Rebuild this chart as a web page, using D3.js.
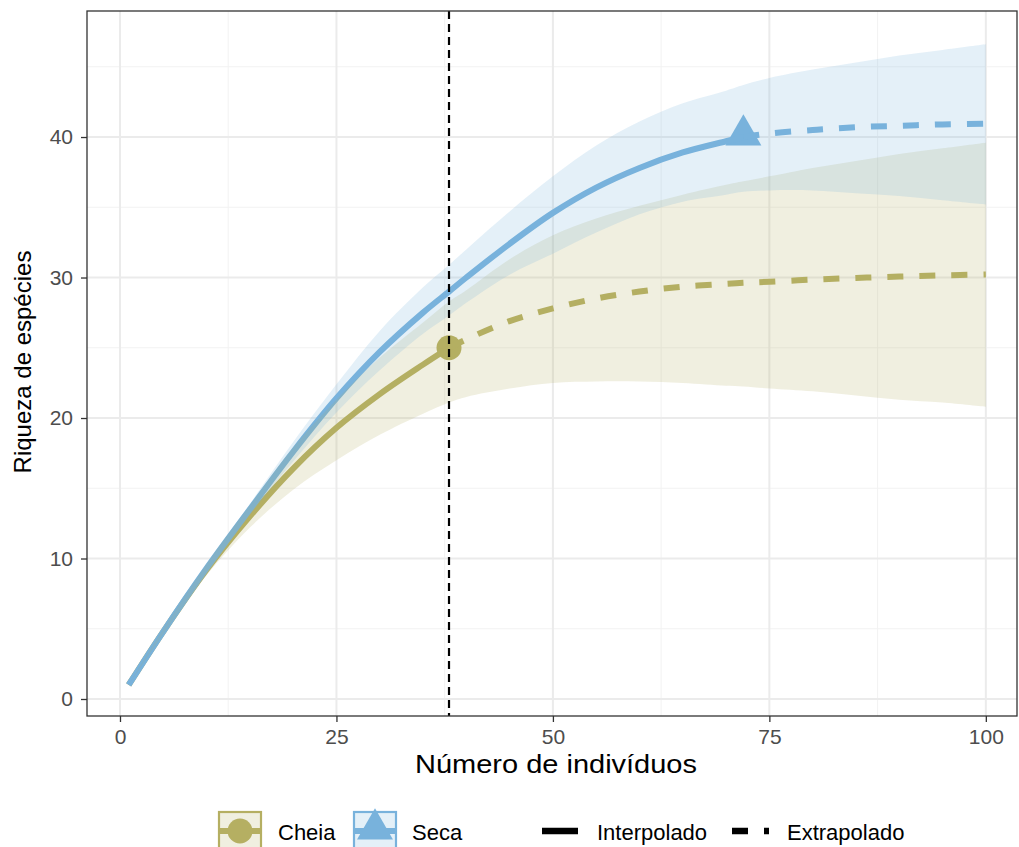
<!DOCTYPE html>
<html>
<head>
<meta charset="utf-8">
<script src="https://cdn.jsdelivr.net/npm/d3@7"></script>
<style>
  body { margin: 0; background: #fff; }
  svg { display: block; font-family: "Liberation Sans", Arial, sans-serif; }
</style>
</head>
<body>
<svg width="1019" height="847"></svg>
<script>
const svg = d3.select('svg')

// amostras (número de indivíduos)
const xs = [1, 5, 10, 15, 20, 25, 30, 35, 38, 40, 45, 50, 55, 60, 65, 70, 72, 75, 80, 85, 90, 95, 100]

// Cheia: observado em 38 indivíduos
const cheiaObs = 38
const cheiaMean = [1, 4.8, 9.2, 13.0, 16.4, 19.3, 21.7, 23.8, 25.0, 25.6, 26.9, 27.8, 28.5, 29.0, 29.35, 29.55, 29.62, 29.7, 29.85, 29.97, 30.07, 30.15, 30.22]
const cheiaLow = [1, 4.6, 8.8, 12.2, 14.9, 17.0, 18.8, 20.3, 21.1, 21.5, 22.1, 22.5, 22.6, 22.6, 22.5, 22.3, 22.25, 22.1, 21.9, 21.6, 21.3, 21.1, 20.8]
const cheiaHigh = [1, 5.0, 9.6, 13.8, 17.9, 21.3, 24.3, 26.8, 28.3, 29.1, 31.3, 33.0, 34.2, 35.1, 35.9, 36.6, 36.85, 37.2, 37.8, 38.3, 38.8, 39.2, 39.6]

// Seca: observado em 72 indivíduos
const secaObs = 72
const secaMean = [1, 4.8, 9.3, 13.5, 17.6, 21.4, 24.7, 27.5, 29.0, 30.0, 32.4, 34.6, 36.4, 37.8, 38.9, 39.7, 40.0, 40.25, 40.5, 40.7, 40.8, 40.9, 40.95]
const secaLow = [1, 4.6, 9.1, 13.1, 16.9, 20.4, 23.4, 26.0, 27.3, 28.2, 30.2, 31.7, 33.2, 34.5, 35.4, 35.9, 36.1, 36.2, 36.2, 36.0, 35.8, 35.5, 35.2]
const secaHigh = [1, 5.0, 9.5, 13.9, 18.3, 22.4, 26.2, 29.3, 30.9, 32.0, 34.7, 37.2, 39.4, 41.1, 42.4, 43.3, 43.7, 44.2, 44.8, 45.3, 45.8, 46.2, 46.6]

const xTicks = [0, 25, 50, 75, 100]
const yTicks = [0, 10, 20, 30, 40]
const xMinor = [12.5, 37.5, 62.5, 87.5]
const yMinor = [5, 15, 25, 35, 45]
const vlineX = 38

const colCheia = '#B5AF62'
const colSeca = '#78B2DC'

const pLeft = 87, pTop = 11, pRight = 1017, pBottom = 716

const x = d3.scaleLinear().domain([-3.81, 103.6]).range([pLeft, pRight])
const y = d3.scaleLinear().domain([-1.21, 48.97]).range([pBottom, pTop])

const series = [
  { name: 'Cheia', obs: cheiaObs, mean: cheiaMean, low: cheiaLow, high: cheiaHigh, color: colCheia, shape: 'circle' },
  { name: 'Seca', obs: secaObs, mean: secaMean, low: secaLow, high: secaHigh, color: colSeca, shape: 'triangle' }
]
series.forEach(s => {
  s.rows = xs.map((v, i) => ({ x: v, m: s.mean[i], lo: s.low[i], hi: s.high[i] }))
  s.inter = s.rows.filter(d => d.x <= s.obs)
  s.extra = s.rows.filter(d => d.x >= s.obs)
  s.point = s.rows.find(d => d.x === s.obs)
})

// grid
const grid = svg.append('g')
grid.selectAll('.ymin').data(yMinor).enter().append('line')
  .attr('x1', pLeft).attr('x2', pRight).attr('y1', d => y(d)).attr('y2', d => y(d))
  .attr('stroke', '#F2F2F2').attr('stroke-width', 1)
grid.selectAll('.xmin').data(xMinor).enter().append('line')
  .attr('y1', pTop).attr('y2', pBottom).attr('x1', d => x(d)).attr('x2', d => x(d))
  .attr('stroke', '#F2F2F2').attr('stroke-width', 1)
grid.selectAll('.ymaj').data(yTicks).enter().append('line')
  .attr('x1', pLeft).attr('x2', pRight).attr('y1', d => y(d)).attr('y2', d => y(d))
  .attr('stroke', '#EBEBEB').attr('stroke-width', 2)
grid.selectAll('.xmaj').data(xTicks).enter().append('line')
  .attr('y1', pTop).attr('y2', pBottom).attr('x1', d => x(d)).attr('x2', d => x(d))
  .attr('stroke', '#EBEBEB').attr('stroke-width', 2)

const curve = d3.curveCatmullRom.alpha(0.5)
const line = d3.line().x(d => x(d.x)).y(d => y(d.m)).curve(curve)
const area = d3.area().x(d => x(d.x)).y0(d => y(d.lo)).y1(d => y(d.hi)).curve(curve)

// points
series.forEach(s => {
  const px = x(s.point.x), py = y(s.point.m)
  if (s.shape === 'circle') {
    svg.append('circle').attr('cx', px).attr('cy', py).attr('r', 12.5).attr('fill', s.color)
  } else {
    svg.append('path').attr('d', d3.symbol(d3.symbolTriangle, 560)())
      .attr('transform', `translate(${px},${py - 2})`).attr('fill', s.color)
  }
})

// lines
series.forEach(s => {
  svg.append('path').datum(s.inter).attr('d', line)
    .attr('fill', 'none').attr('stroke', s.color).attr('stroke-width', 6)
  svg.append('path').datum(s.extra).attr('d', line)
    .attr('fill', 'none').attr('stroke', s.color).attr('stroke-width', 6)
    .attr('stroke-dasharray', '16,16')
})

// ribbons
series.forEach(s => {
  svg.append('path').datum(s.rows).attr('d', area)
    .attr('fill', s.color).attr('fill-opacity', 0.2)
})

// vertical reference line
svg.append('line')
  .attr('x1', x(vlineX)).attr('x2', x(vlineX)).attr('y1', pTop).attr('y2', pBottom)
  .attr('stroke', '#000').attr('stroke-width', 2.2).attr('stroke-dasharray', '8,5')

// panel border
svg.append('rect').attr('x', pLeft).attr('y', pTop).attr('width', pRight - pLeft).attr('height', pBottom - pTop)
  .attr('fill', 'none').attr('stroke', '#333').attr('stroke-width', 1.3)

// axes
const yAxis = svg.append('g').attr('transform', `translate(${pLeft},0)`)
  .call(d3.axisLeft(y).tickValues(yTicks).tickSize(6).tickPadding(8))
const xAxis = svg.append('g').attr('transform', `translate(0,${pBottom})`)
  .call(d3.axisBottom(x).tickValues(xTicks).tickSize(6).tickPadding(7))
;[xAxis, yAxis].forEach(a => {
  a.select('.domain').remove()
  a.selectAll('.tick line').attr('stroke', '#333').attr('stroke-width', 1.3)
  a.selectAll('.tick text').attr('fill', '#4D4D4D').style('font-size', '21px')
    .style('font-family', '"Liberation Sans", Arial, sans-serif')
})

svg.append('text').attr('x', 556).attr('y', 773).attr('text-anchor', 'middle')
  .attr('textLength', 282).attr('lengthAdjust', 'spacingAndGlyphs')
  .style('font-size', '25px').text('Número de indivíduos')
svg.append('text').attr('transform', 'translate(31,362) rotate(-90)').attr('text-anchor', 'middle')
  .style('font-size', '24px').text('Riqueza de espécies')

// legend
const ly = 831
const lg = svg.append('g')
const keys = [{ s: series[0], kx: 218, tx: 278 }, { s: series[1], kx: 353, tx: 412 }]
keys.forEach(k => {
  const s = k.s
  lg.append('rect').attr('x', k.kx + 1).attr('y', 812).attr('width', 42).attr('height', 42)
    .attr('fill', s.color).attr('fill-opacity', 0.2)
    .attr('stroke', s.color).attr('stroke-width', 2.2)
  lg.append('line').attr('x1', k.kx + 2).attr('x2', k.kx + 42).attr('y1', ly).attr('y2', ly)
    .attr('stroke', s.color).attr('stroke-width', 6)
  if (s.shape === 'circle') {
    lg.append('circle').attr('cx', k.kx + 22).attr('cy', ly).attr('r', 12.5).attr('fill', s.color)
  } else {
    lg.append('path').attr('d', d3.symbol(d3.symbolTriangle, 560)())
      .attr('transform', `translate(${k.kx + 22},${ly - 2})`).attr('fill', s.color)
  }
  lg.append('text').attr('x', k.tx).attr('y', ly + 9).style('font-size', '22px').text(s.name)
})
lg.append('line').attr('x1', 542).attr('x2', 578).attr('y1', ly).attr('y2', ly)
  .attr('stroke', '#000').attr('stroke-width', 6.5)
lg.append('text').attr('x', 597).attr('y', ly + 9).style('font-size', '22px').text('Interpolado')
lg.append('line').attr('x1', 732).attr('x2', 769).attr('y1', ly).attr('y2', ly)
  .attr('stroke', '#000').attr('stroke-width', 6.5).attr('stroke-dasharray', '16,16')
lg.append('text').attr('x', 787).attr('y', ly + 9).style('font-size', '22px').text('Extrapolado')
</script>
</body>
</html>
